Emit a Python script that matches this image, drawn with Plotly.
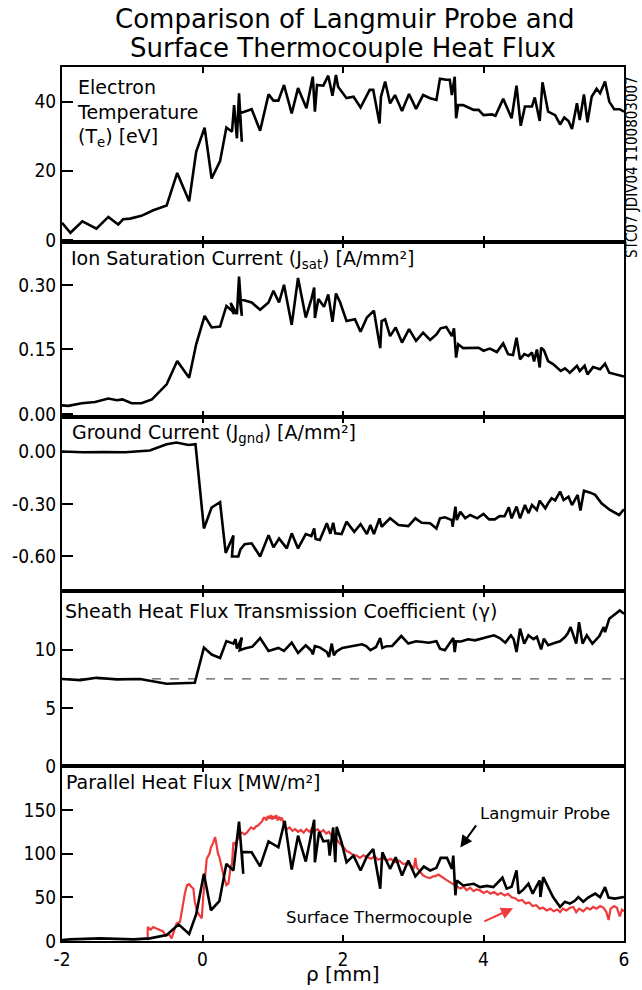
import plotly.graph_objects as go
from plotly.subplots import make_subplots

# ---------------- data ----------------
te_rho = [-2.0, -1.88, -1.71, -1.51, -1.34, -1.20, -1.13, -1.03, -0.87, -0.70,
          -0.51, -0.36, -0.19, -0.09, 0.03, 0.13, 0.25, 0.34, 0.42, 0.45,
          0.49, 0.52, 0.56, 0.53, 0.70, 0.82, 0.94, 1.01, 1.08, 1.16,
          1.27, 1.36, 1.48, 1.57, 1.60, 1.63, 1.72, 1.79, 1.85, 1.90,
          1.93, 2.05, 2.15, 2.25, 2.38, 2.43, 2.52, 2.54, 2.60, 2.67,
          2.74, 2.84, 2.94, 3.04, 3.14, 3.24, 3.33, 3.38, 3.47, 3.52,
          3.55, 3.59, 3.61, 3.64, 3.71, 3.86, 3.93, 4.00, 4.12, 4.17,
          4.28, 4.40, 4.47, 4.53, 4.59, 4.69, 4.73, 4.80, 4.84, 4.92,
          5.02, 5.09, 5.15, 5.21, 5.26, 5.33, 5.37, 5.43, 5.48, 5.54,
          5.61, 5.66, 5.73, 5.79, 5.86, 5.94, 6.0]
te_val = [5.0, 2.1, 5.4, 3.3, 6.7, 4.5, 6.0, 6.2, 7.0, 8.6,
          10.0, 19.4, 11.2, 25.5, 32.5, 17.8, 22.8, 32.5, 31.3, 39.0,
          29.4, 42.4, 28.4, 36.6, 37.8, 31.6, 42.1, 40.3, 40.3, 44.8,
          36.6, 43.9, 38.1, 47.2, 37.1, 44.8, 44.6, 47.5, 41.7, 47.7,
          44.3, 41.0, 41.4, 38.3, 43.4, 43.4, 33.7, 41.4, 45.8, 39.5,
          41.9, 37.3, 42.2, 37.9, 41.9, 41.0, 40.5, 46.6, 46.3, 46.3,
          41.9, 47.2, 35.2, 39.0, 39.0, 37.6, 37.6, 36.1, 36.3, 35.9,
          40.8, 35.2, 44.6, 33.0, 38.6, 38.6, 41.2, 34.4, 45.6, 37.1,
          36.1, 33.4, 35.4, 34.4, 32.1, 39.5, 34.7, 42.1, 34.0, 41.4,
          43.7, 42.4, 45.8, 40.0, 37.8, 37.8, 37.1]

jsat_rho = [-2.0, -1.91, -1.72, -1.53, -1.34, -1.22, -1.14, -1.01, -0.87, -0.72,
            -0.51, -0.36, -0.19, -0.09, 0.03, 0.13, 0.25, 0.34, 0.42, 0.45,
            0.40, 0.49, 0.52, 0.56, 0.53, 0.70, 0.82, 0.94, 1.01, 1.09,
            1.16, 1.27, 1.36, 1.47, 1.55, 1.59, 1.60, 1.65, 1.73, 1.79,
            1.85, 1.90, 1.96, 2.05, 2.17, 2.25, 2.34, 2.44, 2.50, 2.53,
            2.55, 2.60, 2.67, 2.75, 2.84, 2.94, 3.04, 3.14, 3.24, 3.33,
            3.39, 3.47, 3.55, 3.58, 3.61, 3.64, 3.71, 3.86, 3.93, 4.00,
            4.09, 4.19, 4.28, 4.35, 4.42, 4.47, 4.52, 4.58, 4.64, 4.69,
            4.72, 4.76, 4.80, 4.82, 4.86, 4.92, 4.99, 5.10, 5.16, 5.23,
            5.33, 5.37, 5.44, 5.48, 5.56, 5.66, 5.73, 5.79, 5.89, 6.0]
jsat_val = [0.020, 0.019, 0.025, 0.028, 0.036, 0.032, 0.034, 0.025, 0.025, 0.034,
            0.069, 0.123, 0.084, 0.162, 0.228, 0.201, 0.203, 0.251, 0.240, 0.232,
            0.258, 0.232, 0.319, 0.228, 0.267, 0.259, 0.242, 0.259, 0.286, 0.259,
            0.300, 0.207, 0.316, 0.224, 0.267, 0.294, 0.223, 0.267, 0.249, 0.278,
            0.214, 0.280, 0.259, 0.216, 0.220, 0.191, 0.224, 0.240, 0.181, 0.153,
            0.216, 0.220, 0.181, 0.201, 0.166, 0.197, 0.170, 0.189, 0.172, 0.185,
            0.199, 0.202, 0.181, 0.199, 0.131, 0.162, 0.153, 0.154, 0.154, 0.147,
            0.152, 0.144, 0.164, 0.139, 0.137, 0.177, 0.127, 0.139, 0.135, 0.143,
            0.122, 0.150, 0.108, 0.154, 0.148, 0.123, 0.116, 0.100, 0.106, 0.096,
            0.112, 0.100, 0.112, 0.092, 0.109, 0.104, 0.117, 0.096, 0.092, 0.087]

jgnd_rho = [-2.0, -1.7, -1.4, -1.1, -0.75, -0.51, -0.37, -0.20, -0.10, 0.02,
            0.13, 0.25, 0.33, 0.44, 0.42, 0.51, 0.54, 0.60, 0.70, 0.82,
            0.94, 1.01, 1.09, 1.20, 1.27, 1.36, 1.47, 1.55, 1.59, 1.61,
            1.67, 1.77, 1.82, 1.86, 1.89, 1.98, 2.05, 2.16, 2.25, 2.34,
            2.39, 2.44, 2.52, 2.55, 2.67, 2.79, 2.93, 3.03, 3.12, 3.24,
            3.33, 3.38, 3.45, 3.55, 3.56, 3.60, 3.62, 3.67, 3.74, 3.81,
            3.91, 4.00, 4.08, 4.16, 4.23, 4.30, 4.36, 4.40, 4.47, 4.52,
            4.59, 4.64, 4.69, 4.76, 4.80, 4.88, 4.92, 4.97, 5.02, 5.09,
            5.14, 5.21, 5.26, 5.34, 5.38, 5.43, 5.52, 5.59, 5.68, 5.80,
            5.93, 6.0]
jgnd_val = [0.0, -0.004, -0.003, -0.004, 0.006, 0.042, 0.052, 0.038, 0.042, -0.44,
            -0.32, -0.29, -0.58, -0.48, -0.60, -0.60, -0.56, -0.53, -0.525, -0.60,
            -0.478, -0.548, -0.497, -0.554, -0.468, -0.554, -0.472, -0.483, -0.44, -0.50,
            -0.506, -0.41, -0.47, -0.407, -0.468, -0.472, -0.401, -0.459, -0.415, -0.472,
            -0.42, -0.472, -0.382, -0.43, -0.382, -0.42, -0.426, -0.382, -0.407, -0.41,
            -0.44, -0.382, -0.376, -0.392, -0.43, -0.315, -0.392, -0.344, -0.382, -0.363,
            -0.382, -0.357, -0.388, -0.388, -0.369, -0.37, -0.319, -0.382, -0.315, -0.382,
            -0.306, -0.353, -0.306, -0.334, -0.281, -0.325, -0.296, -0.267, -0.28, -0.229,
            -0.277, -0.258, -0.306, -0.248, -0.338, -0.224, -0.235, -0.248, -0.296, -0.334,
            -0.363, -0.33]

gamma_rho = [-2.0, -1.74, -1.51, -1.22, -0.89, -0.70, -0.51, -0.11, 0.02, 0.13,
             0.25, 0.34, 0.44, 0.47, 0.49, 0.56, 0.53, 0.60, 0.71, 0.82,
             0.94, 1.08, 1.16, 1.27, 1.36, 1.47, 1.55, 1.57, 1.60, 1.67,
             1.77, 1.80, 1.84, 1.87, 1.91, 1.99, 2.07, 2.15, 2.27, 2.33,
             2.39, 2.47, 2.53, 2.56, 2.62, 2.70, 2.83, 2.93, 3.04, 3.14,
             3.22, 3.33, 3.38, 3.45, 3.52, 3.57, 3.59, 3.61, 3.68, 3.78,
             3.88, 4.00, 4.07, 4.15, 4.23, 4.31, 4.39, 4.43, 4.47, 4.52,
             4.58, 4.64, 4.71, 4.76, 4.82, 4.86, 4.92, 5.02, 5.09, 5.16,
             5.20, 5.24, 5.28, 5.32, 5.36, 5.41, 5.47, 5.55, 5.65, 5.71,
             5.73, 5.79, 5.94, 6.0]
gamma_val = [7.48, 7.39, 7.59, 7.45, 7.48, 7.25, 7.08, 7.16, 10.18, 9.58,
             9.29, 10.74, 10.52, 10.9, 10.1, 11.03, 9.95, 10.1, 10.26, 11.0,
             9.89, 10.15, 9.9, 10.6, 9.72, 10.38, 9.9, 9.6, 10.3, 10.2,
             9.8, 9.38, 10.52, 9.52, 9.86, 10.15, 10.23, 10.29, 10.46, 10.3,
             9.95, 10.23, 11.0, 10.15, 10.3, 10.32, 11.17, 10.52, 10.72, 10.66,
             10.6, 10.72, 10.09, 9.95, 10.52, 11.0, 9.8, 10.72, 10.7, 10.89,
             10.8, 10.95, 11.1, 11.23, 11.0, 10.6, 11.23, 10.9, 9.8, 11.8,
             10.52, 11.23, 10.9, 11.1, 10.03, 10.95, 10.38, 10.6, 10.72, 11.08,
             11.4, 11.94, 11.2, 10.52, 12.36, 10.52, 11.23, 10.52, 11.17, 11.94,
             11.5, 12.65, 13.36, 13.08]
gamma_ref = 7.5

qlp_rho = [-2.0, -1.89, -1.46, -0.98, -0.75, -0.51, -0.34, -0.19, -0.09, 0.02,
           0.12, 0.24, 0.34, 0.44, 0.52, 0.58, 0.56, 0.70, 0.82, 0.94,
           1.08, 1.17, 1.27, 1.36, 1.47, 1.59, 1.60, 1.66, 1.72, 1.79,
           1.81, 1.86, 1.89, 1.91, 1.98, 2.05, 2.15, 2.25, 2.34, 2.43,
           2.53, 2.56, 2.67, 2.75, 2.84, 2.93, 3.03, 3.15, 3.24, 3.33,
           3.39, 3.48, 3.55, 3.57, 3.60, 3.62, 3.71, 3.86, 3.95, 4.05,
           4.14, 4.27, 4.33, 4.40, 4.47, 4.50, 4.57, 4.64, 4.70, 4.75,
           4.80, 4.81, 4.85, 4.92, 4.99, 5.09, 5.16, 5.23, 5.30, 5.35,
           5.42, 5.49, 5.59, 5.66, 5.73, 5.78, 5.87, 6.0]
qlp_val = [1.0, 1.9, 3.0, 1.9, 3.0, 6.8, 19.0, 8.0, 30.7, 76.9,
           35.2, 45.5, 88.3, 80.7, 136.5, 76.9, 102.0, 101.5, 85.4, 114.0,
           107.2, 137.5, 81.8, 120.5, 90.9, 138.6, 90.1, 125.0, 114.0, 114.8,
           97.7, 129.9, 90.1, 130.7, 112.8, 90.1, 97.7, 80.7, 96.6, 105.3,
           59.9, 101.5, 82.6, 95.8, 75.0, 92.0, 73.9, 85.2, 80.7, 83.7,
           95.1, 95.1, 82.6, 97.7, 52.3, 69.3, 63.6, 65.5, 61.7, 63.0,
           61.7, 72.4, 59.9, 62.0, 80.7, 54.2, 59.0, 65.5, 54.2, 62.0,
           69.3, 50.3, 73.0, 61.7, 50.3, 39.0, 45.0, 42.8, 46.0, 50.3,
           45.0, 49.7, 54.2, 50.0, 61.7, 49.7, 48.5, 50.3]

qtc_rho = [-0.78, -0.78, -0.74, -0.70, -0.65, -0.60, -0.56, -0.52, -0.48, -0.44,
           -0.40, -0.37, -0.32, -0.28, -0.25, -0.22, -0.19, -0.16, -0.13, -0.11,
           -0.08, -0.05, -0.01, 0.01, 0.04, 0.06, 0.10, 0.12, 0.15, 0.18,
           0.20, 0.22, 0.24, 0.27, 0.30, 0.34, 0.37, 0.40, 0.42, 0.44,
           0.47, 0.49, 0.53, 0.56, 0.60, 0.63, 0.66, 0.69, 0.73, 0.76,
           0.79, 0.82, 0.85, 0.87, 0.89, 0.91, 0.93, 0.95, 0.97, 0.99,
           1.01, 1.03, 1.05, 1.07, 1.09, 1.11, 1.13, 1.16, 1.20, 1.24,
           1.28, 1.32, 1.36, 1.40, 1.44, 1.48, 1.52, 1.56, 1.60, 1.64,
           1.68, 1.72, 1.76, 1.80, 1.84, 1.88, 1.92, 1.96, 2.00, 2.05,
           2.10, 2.15, 2.19, 2.24, 2.29, 2.34, 2.40, 2.45, 2.50, 2.56,
           2.62, 2.68, 2.74, 2.80, 2.86, 2.91, 2.96, 3.01, 3.03, 3.05,
           3.10, 3.14, 3.19, 3.24, 3.28, 3.31, 3.36, 3.40, 3.43, 3.47,
           3.51, 3.55, 3.59, 3.63, 3.67, 3.72, 3.76, 3.81, 3.86, 3.90,
           3.95, 4.00, 4.05, 4.10, 4.15, 4.20, 4.25, 4.30, 4.35, 4.40,
           4.45, 4.50, 4.55, 4.60, 4.65, 4.70, 4.75, 4.80, 4.85, 4.90,
           4.95, 5.00, 5.05, 5.09, 5.13, 5.18, 5.23, 5.28, 5.32, 5.36,
           5.42, 5.47, 5.52, 5.56, 5.61, 5.66, 5.71, 5.75, 5.78, 5.81,
           5.86, 5.90, 5.94, 5.97, 6.00]
qtc_val = [1, 16, 13, 16, 14, 12, 11, 6, 8, 3,
           12, 20, 22, 43, 55, 64, 65, 62, 60, 45,
           35, 30, 26, 50, 75, 94, 100, 107, 112, 119,
           110, 100, 96, 84, 75, 64, 66, 85, 88, 113,
           110, 115, 122, 124, 122, 124, 127, 130, 128, 131,
           132, 134, 137, 141, 141, 138, 143, 140, 144, 139,
           143, 140, 144, 138, 142, 139, 141, 133, 128, 130,
           126, 128, 125, 127, 124, 128, 125, 129, 126, 128,
           124, 127, 123, 125, 120, 121, 115, 111, 108, 103,
           101, 98, 98, 95, 98, 96, 94, 97, 93, 95,
           92, 94, 90, 92, 88, 89, 86, 84, 95, 84,
           79, 75, 73, 72, 74, 74, 76, 74, 73, 70,
           68, 66, 64, 62, 60, 62, 58, 61, 57, 59,
           58, 55, 57, 54, 56, 53, 55, 52, 54, 50,
           49, 46, 47, 43, 44, 40, 41, 37, 38, 35,
           37, 34, 36, 33, 37, 35, 38, 39, 33, 37,
           34, 38, 36, 39, 37, 40, 38, 33, 24, 37,
           40, 38, 28, 36, 34]

x_ticks = [-2, 0, 2, 4, 6]
te_ticks = [0, 20, 40]
jsat_ticks = [0.0, 0.15, 0.30]
jgnd_ticks = [0.0, -0.30, -0.60]
gamma_ticks = [0, 5, 10]
q_ticks = [0, 50, 100, 150]

# ---------------- figure ----------------
FONT_C = "DejaVu Sans Condensed, DejaVu Sans, sans-serif"
FONT = "DejaVu Sans, Verdana, sans-serif"
BLACK = "#000000"
RED = "#ee3a3a"

fig = make_subplots(rows=5, cols=1, shared_xaxes=True, vertical_spacing=0)

lw = 2.6
fig.add_trace(go.Scatter(x=te_rho, y=te_val, mode="lines",
                         line=dict(color=BLACK, width=lw)), row=1, col=1)
fig.add_trace(go.Scatter(x=jsat_rho, y=jsat_val, mode="lines",
                         line=dict(color=BLACK, width=lw)), row=2, col=1)
fig.add_trace(go.Scatter(x=jgnd_rho, y=jgnd_val, mode="lines",
                         line=dict(color=BLACK, width=lw)), row=3, col=1)
fig.add_trace(go.Scatter(x=[-2, 6], y=[gamma_ref, gamma_ref], mode="lines",
                         line=dict(color="#555555", width=1.2, dash="dash")), row=4, col=1)
fig.add_trace(go.Scatter(x=gamma_rho, y=gamma_val, mode="lines",
                         line=dict(color=BLACK, width=lw)), row=4, col=1)
fig.add_trace(go.Scatter(x=qtc_rho, y=qtc_val, mode="lines",
                         line=dict(color=RED, width=2.2)), row=5, col=1)
fig.add_trace(go.Scatter(x=qlp_rho, y=qlp_val, mode="lines",
                         line=dict(color=BLACK, width=lw)), row=5, col=1)

yranges = [[-0.5, 50], [-0.006, 0.40], [-0.8, 0.2], [0, 15], [0, 200]]
yticks = [
    (te_ticks, ["0", "20", "40"]),
    (jsat_ticks, ["0.00", "0.15", "0.30"]),
    (jgnd_ticks, ["0.00", "-0.30", "-0.60"]),
    (gamma_ticks, ["0", "5", "10"]),
    (q_ticks, ["0", "50", "100", "150"]),
]
for i in range(5):
    fig.update_yaxes(row=i + 1, col=1, range=yranges[i], tickvals=yticks[i][0],
                     ticktext=yticks[i][1], ticks="inside", ticklen=11, tickwidth=1.5,
                     tickcolor=BLACK, showline=True, linewidth=2, linecolor=BLACK,
                     mirror=True, showgrid=False, zeroline=False,
                     tickfont=dict(family=FONT_C, size=19, color=BLACK))
    fig.update_xaxes(row=i + 1, col=1, range=[-2, 6], tickvals=x_ticks,
                     ticktext=[str(v) for v in x_ticks], ticks="inside", ticklen=6,
                     tickwidth=1.5, tickcolor=BLACK, showline=True, linewidth=2,
                     linecolor=BLACK, mirror="ticks", showgrid=False, zeroline=False,
                     tickfont=dict(family=FONT_C, size=19, color=BLACK))

# page pixel -> paper coordinates (plot area spans 62..624 x 67..941 on the page)
def pap_x(px):
    return (px - 62) / 562.0

def pap_y(py):
    return (941 - py) / 874.0

ann = []
lab_font = dict(family=FONT, size=19, color=BLACK)
ann.append(dict(text="Electron<br>Temperature<br>(T<sub>e</sub>) [eV]", x=pap_x(75), y=pap_y(113),
                xanchor="left", yanchor="middle", align="left"))
ann.append(dict(text="Ion Saturation Current (J<sub>sat</sub>) [A/mm²]", x=pap_x(69), y=pap_y(259),
                xanchor="left", yanchor="middle", align="left"))
ann.append(dict(text="Ground Current (J<sub>gnd</sub>) [A/mm²]", x=pap_x(70), y=pap_y(433),
                xanchor="left", yanchor="middle", align="left"))
ann.append(dict(text="Sheath Heat Flux Transmission Coefficient (γ)", x=pap_x(63), y=pap_y(611),
                xanchor="left", yanchor="middle", align="left"))
ann.append(dict(text="Parallel Heat Flux [MW/m²]", x=pap_x(64), y=pap_y(782),
                xanchor="left", yanchor="middle", align="left"))
for a in ann:
    a.update(xref="paper", yref="paper", showarrow=False, font=lab_font)

small = dict(family=FONT, size=16.5, color=BLACK)
title_font = dict(family=FONT, size=26, color=BLACK)
ann += [
    dict(text="Langmuir Probe", x=pap_x(478), y=pap_y(813), xref="paper", yref="paper",
         xanchor="left", yanchor="middle", showarrow=False, font=small),
    dict(text="Surface Thermocouple", x=pap_x(284), y=pap_y(917), xref="paper", yref="paper",
         xanchor="left", yanchor="middle", showarrow=False, font=small),
    dict(text="", x=3.67, y=107, xref="x5", yref="y5", ax=3.91, ay=134, axref="x5", ayref="y5",
         showarrow=True, arrowhead=2, arrowsize=1.2, arrowwidth=2, arrowcolor=BLACK),
    dict(text="", x=4.42, y=37.5, xref="x5", yref="y5", ax=3.99, ay=21.6, axref="x5", ayref="y5",
         showarrow=True, arrowhead=2, arrowsize=1.2, arrowwidth=2, arrowcolor=RED),
    dict(text="ρ [mm]", x=pap_x(343), y=pap_y(974), xref="paper", yref="paper",
         xanchor="center", yanchor="middle", showarrow=False,
         font=dict(family=FONT, size=20, color=BLACK)),
    dict(text="STC07 JDIV04 1100803007", x=pap_x(632), y=pap_y(167), xref="paper", yref="paper",
         xanchor="center", yanchor="middle", textangle=-90, showarrow=False,
         font=dict(family=FONT_C, size=15, color=BLACK)),
    dict(text="Comparison of Langmuir Probe and", x=pap_x(345), y=pap_y(19),
         xref="paper", yref="paper", xanchor="center", yanchor="middle",
         showarrow=False, font=title_font),
    dict(text="Surface Thermocouple Heat Flux", x=pap_x(343), y=pap_y(48),
         xref="paper", yref="paper", xanchor="center", yanchor="middle",
         showarrow=False, font=title_font),
]

fig.update_layout(width=642, height=990, margin=dict(l=62, r=18, t=67, b=49),
                  paper_bgcolor="white", plot_bgcolor="white", showlegend=False,
                  annotations=ann, font=dict(family=FONT, color=BLACK))

# remove the default 8px page margin so the figure fills the 642x990 window exactly
fig.write_html("out.html", config={"displayModeBar": False},
               post_script="document.body.style.margin='0';document.body.style.overflow='hidden';")
